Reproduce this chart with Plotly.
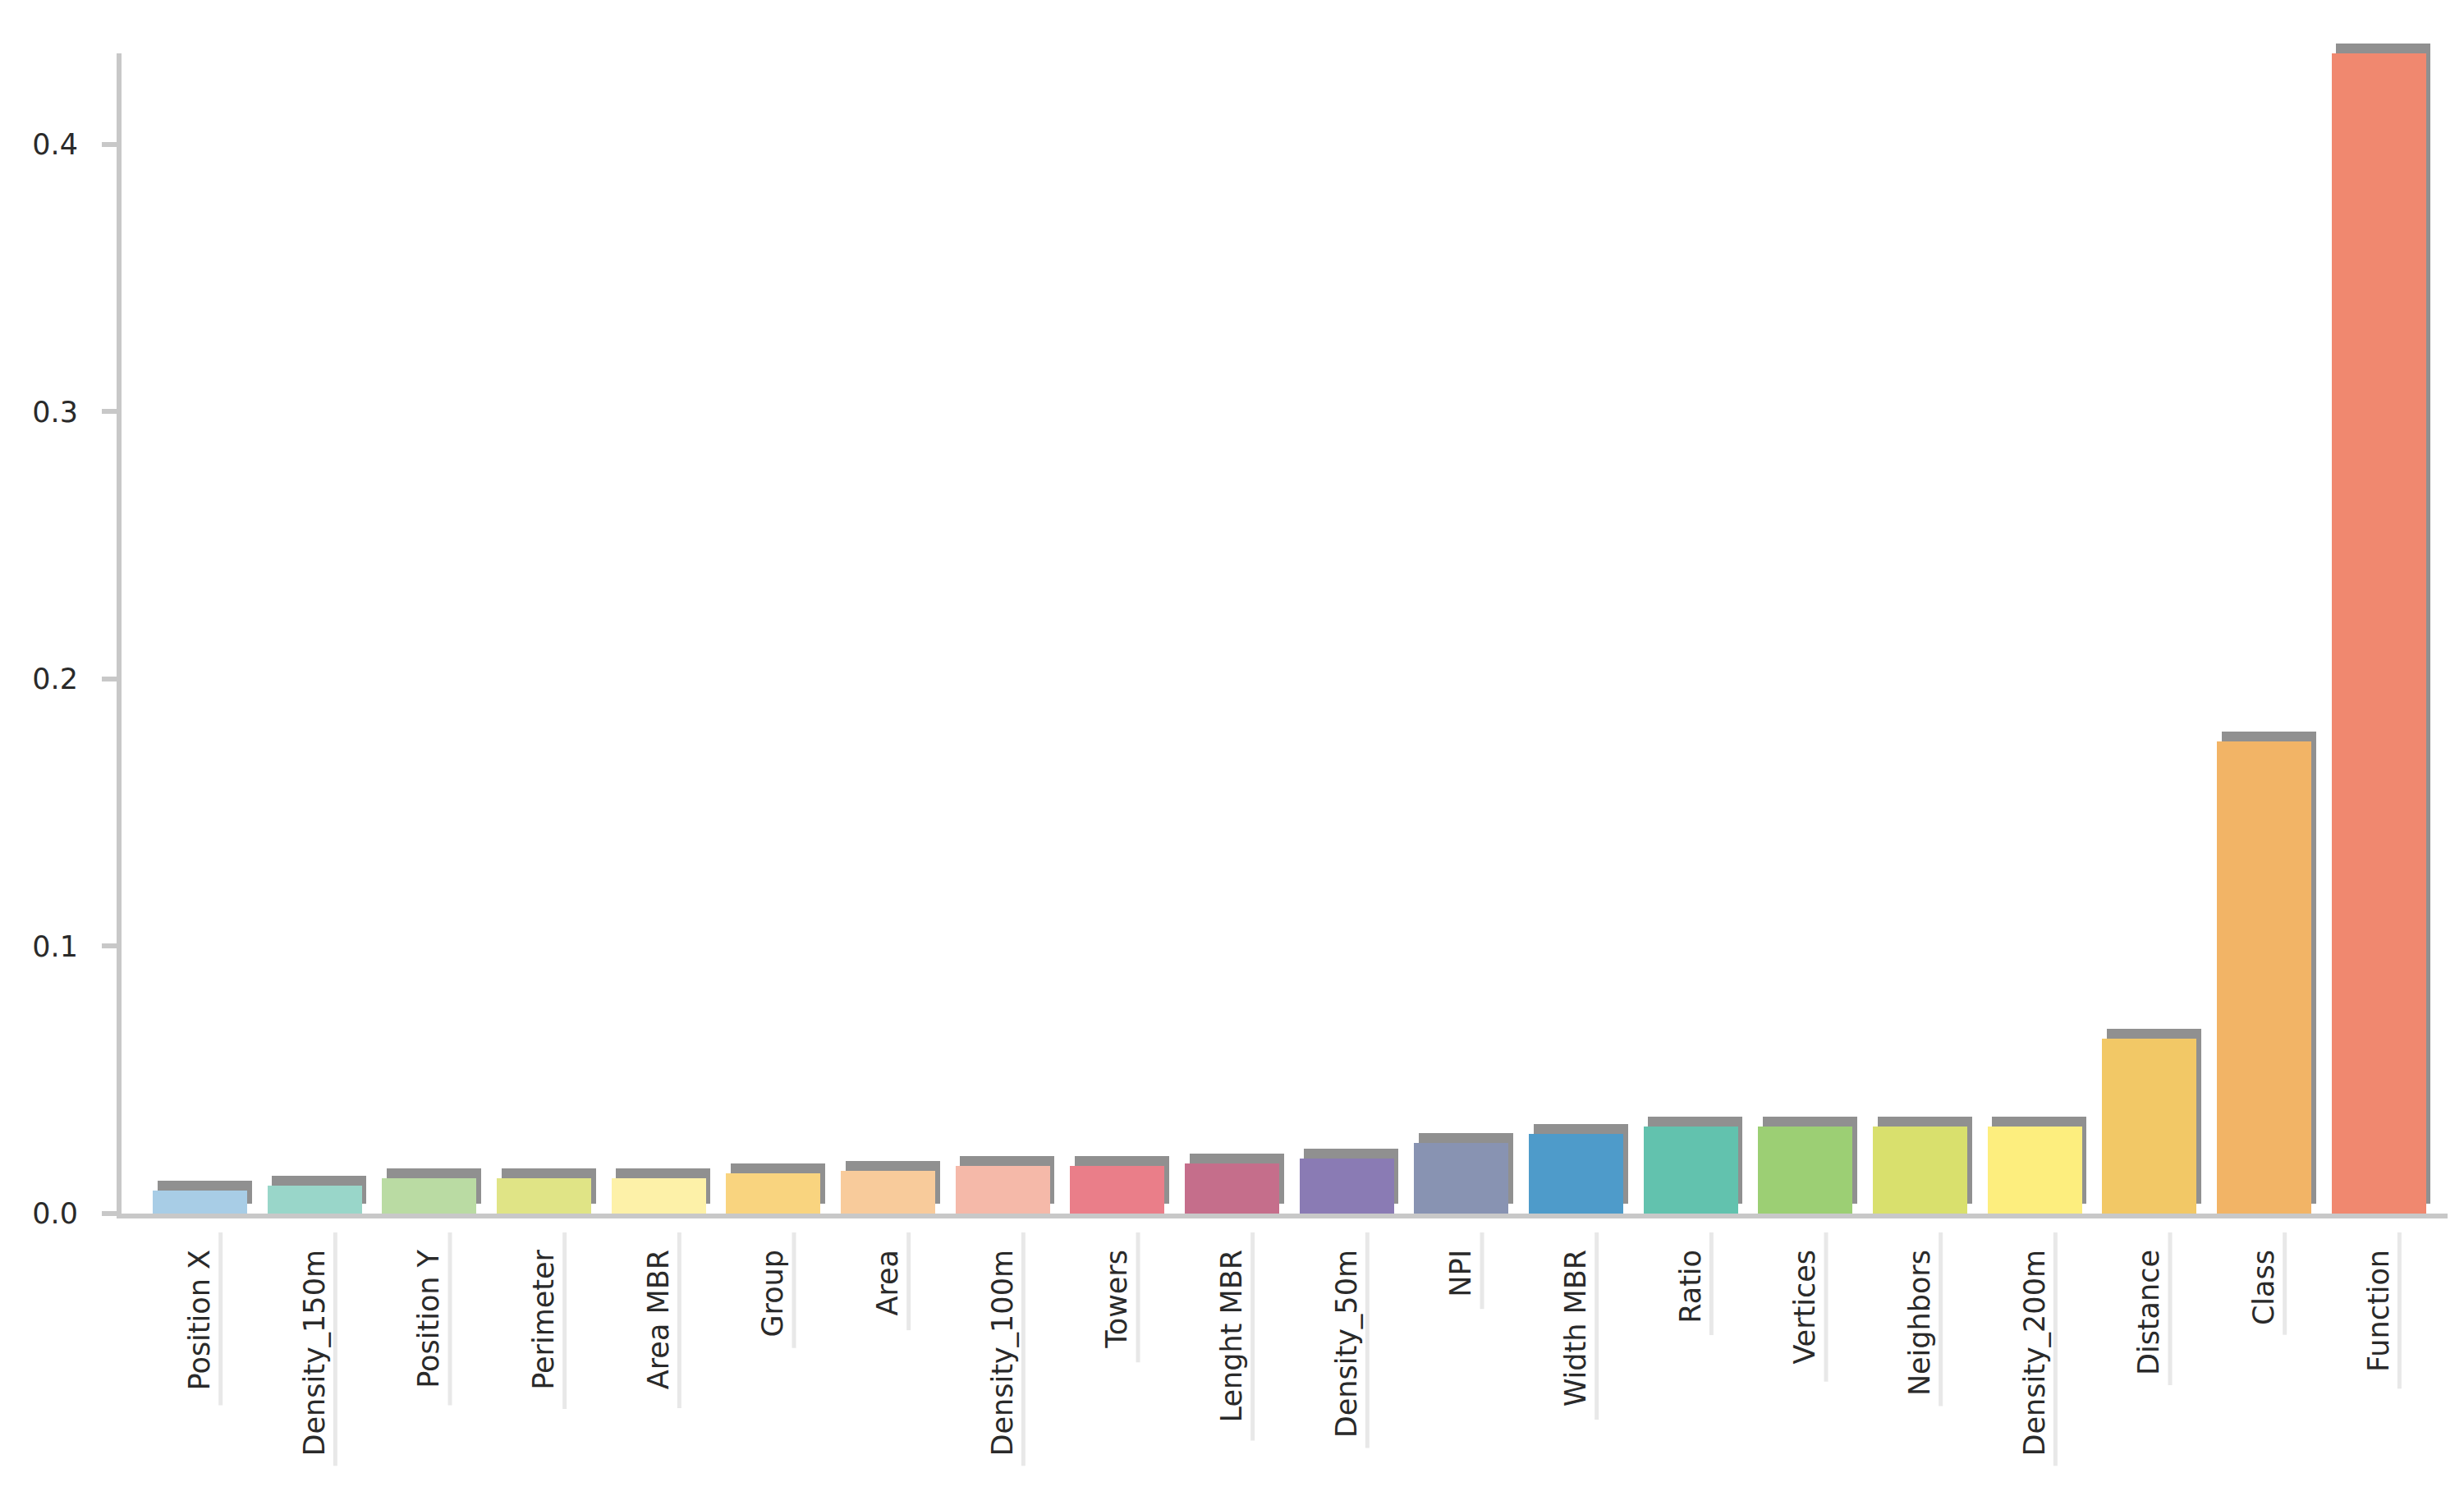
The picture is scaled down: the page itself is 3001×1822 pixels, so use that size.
import plotly.graph_objects as go

features = ["Position X", "Density_150m", "Position Y", "Perimeter", "Area MBR",
            "Group", "Area", "Density_100m", "Towers", "Lenght MBR",
            "Density_50m", "NPI", "Width MBR", "Ratio", "Vertices",
            "Neighbors", "Density_200m", "Distance", "Class", "Function"]
importance = [0.0086, 0.0104, 0.0132, 0.0132, 0.0132,
              0.0150, 0.0160, 0.0177, 0.0178, 0.0187,
              0.0206, 0.0264, 0.0298, 0.0325, 0.0325,
              0.0325, 0.0325, 0.0654, 0.1767, 0.4340]
bar_colors = ["#a8cde6", "#99d6c9", "#badba3", "#e0e486", "#fdf1a8",
              "#f9d47f", "#f8cb9b", "#f5b9a9", "#ea7e89", "#c56e8b",
              "#8a7bb4", "#8893b2", "#4e9bca", "#62c2ae", "#9ccf74",
              "#d9e06d", "#fdee7e", "#f2c866", "#f2b466", "#f0886f"]
y_ticks = [0.0, 0.1, 0.2, 0.3, 0.4]

W, H = 3001, 1822
M_L, M_R, M_T, M_B = 140, 28, 30, 352
plot_h = H - M_T - M_B
bar_top_px = 57                      # top of the y axis line
dom_top = (H - M_B - bar_top_px) / plot_h
y_max = 0.434
px_per_unit = dom_top * plot_h / y_max

bar_w = 0.823
shadow_dx = 5.5 / 139.7              # in category units
shadow_dy = 12 / px_per_unit         # in data units

axis_grey = "#c8c8c8"
font = "DejaVu Sans, Verdana, sans-serif"
FS = 35

fig = go.Figure()

# drop shadow behind each bar (taller subplot so it is not clipped at the top)
fig.add_trace(go.Bar(
    x=features, y=importance, base=shadow_dy,
    width=bar_w, offset=-bar_w / 2 + shadow_dx,
    marker=dict(color="#909090", line=dict(width=0)),
    xaxis="x", yaxis="y", hoverinfo="skip", showlegend=False))

fig.add_trace(go.Bar(
    x=features, y=importance, width=bar_w,
    marker=dict(color=bar_colors, line=dict(width=0)),
    xaxis="x", yaxis="y2", showlegend=False))


def label_px(s, size=FS):
    w = 0.0
    for ch in s:
        if ch in "iljI":
            w += 0.28
        elif ch in "tf":
            w += 0.39
        elif ch == " ":
            w += 0.32
        elif ch in "rs":
            w += 0.50
        elif ch in "mMW":
            w += 0.95
        elif ch.isupper():
            w += 0.72
        else:
            w += 0.62
    return w * size


# faint vertical strokes next to the category labels
shapes = []
for i, name in enumerate(features):
    start = 1493
    end = 1512 + label_px(name) + 14
    shapes.append(dict(
        type="line", xref="x", yref="paper",
        x0=i + 0.18, x1=i + 0.18,
        y0=(H - M_B - start) / plot_h, y1=(H - M_B - end) / plot_h,
        line=dict(color="#e8e8e8", width=5), layer="below"))

fig.update_layout(
    width=W, height=H,
    margin=dict(l=M_L, r=M_R, t=M_T, b=M_B, autoexpand=False),
    paper_bgcolor="white", plot_bgcolor="rgba(0,0,0,0)",
    barmode="overlay", bargap=0,
    font=dict(family=font, size=FS, color="#2a2a2a"),
    shapes=shapes,
    xaxis=dict(
        range=[-0.684, 19.60], anchor="y2", automargin=False,
        showline=True, linecolor=axis_grey, linewidth=6,
        ticks="", tickangle=-90, ticklabelstandoff=24,
        tickfont=dict(size=FS, color="#2a2a2a"),
        showgrid=False, zeroline=False, fixedrange=True),
    yaxis=dict(
        domain=[0, 1], range=[0, y_max / dom_top], anchor="x",
        automargin=False, visible=False, showgrid=False, zeroline=False),
    yaxis2=dict(
        domain=[0, dom_top], range=[0, y_max], anchor="x", automargin=False,
        showline=True, linecolor=axis_grey, linewidth=6,
        ticks="outside", ticklen=18, tickwidth=6, tickcolor=axis_grey,
        tickvals=y_ticks, tickformat=".1f", ticklabelstandoff=22,
        tickfont=dict(size=FS, color="#2a2a2a"),
        showgrid=False, zeroline=False),
)

fig.write_html("out.html")
